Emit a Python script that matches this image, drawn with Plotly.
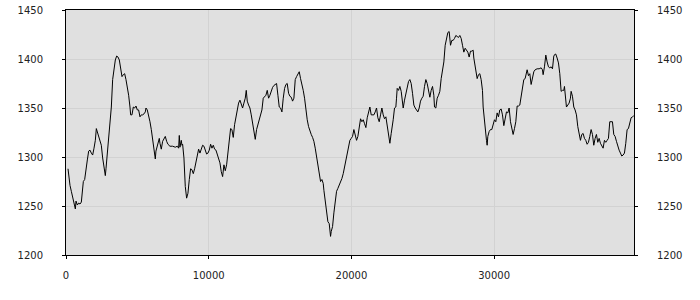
import plotly.graph_objects as go

x_values = [
    140, 187, 280, 374, 467, 560, 654, 701, 794, 887, 981, 1074, 1168, 1214, 1308, 1401, 1495, 1588, 1681, 1775,
    1868, 1962, 2055, 2125, 2195, 2288, 2382, 2475, 2569, 2662, 2755, 2802, 2896, 2989, 3082, 3176, 3269, 3363, 3456, 3549,
    3643, 3736, 3830, 3923, 4016, 4110, 4203, 4297, 4390, 4483, 4530, 4623, 4717, 4810, 4904, 4997, 5090, 5184, 5277, 5371,
    5464, 5557,
    5603, 5696, 5790, 5883, 5977, 6070, 6163, 6257, 6303, 6397, 6490, 6537, 6584, 6677, 6771, 6864, 6957, 7051, 7144, 7284,
    7471, 7658, 7798, 7891, 7938, 7985, 8031, 8078, 8125, 8172, 8265, 8358, 8452, 8545, 8639, 8732, 8825, 8919, 9012, 9106,
    9199, 9292, 9386, 9479, 9573, 9666, 9759, 9853, 9946, 10040, 10133, 10226, 10320, 10413, 10507, 10600, 10693, 10787, 10880, 10974,
    11067, 11160, 11254,
    11346, 11439, 11533, 11626, 11720, 11813, 11906, 12000, 12093, 12187, 12280, 12373, 12467, 12560, 12630, 12700, 12794, 12887, 12981, 13074,
    13167, 13261, 13354, 13448, 13541, 13634, 13728, 13821, 13915, 14008, 14101, 14195, 14288, 14382, 14475, 14568, 14662, 14755, 14849, 14942,
    15035, 15129, 15222, 15316, 15409, 15502, 15596, 15689, 15783, 15876, 15969, 16063, 16156, 16250, 16343, 16436, 16530, 16623, 16717, 16810,
    16903, 16997,
    17090, 17183, 17277, 17370, 17464, 17557, 17650, 17744, 17837, 17931, 18024, 18071, 18164, 18258, 18351, 18444, 18538, 18584, 18678, 18771,
    18865, 18958, 19051, 19145, 19238, 19332, 19425, 19518, 19612, 19705, 19799, 19892, 19985, 20079, 20172, 20266, 20359, 20452, 20546, 20639,
    20733, 20826, 20919, 21013, 21106, 21200, 21293, 21386, 21480, 21573, 21667, 21760, 21853, 21947, 22040, 22134, 22227, 22320, 22414, 22507,
    22601, 22694, 22787,
    22833, 22926, 23020, 23113, 23160, 23207, 23300, 23393, 23487, 23580, 23627, 23720, 23814, 23907, 24001, 24094, 24187, 24281, 24374, 24468,
    24561, 24654, 24748, 24841, 24935, 25028, 25121, 25215, 25308, 25402, 25495, 25588, 25682, 25775, 25822, 25915, 26009, 26102, 26195, 26289,
    26382, 26476, 26569, 26662, 26756, 26849, 26943, 27036, 27129, 27223, 27316, 27410, 27503, 27596, 27690, 27783, 27877, 27970, 28063, 28157,
    28250, 28344, 28437, 28530,
    28576, 28669, 28763, 28810, 28903, 28996, 29090, 29183, 29230, 29323, 29417, 29463, 29510, 29557, 29650, 29744, 29837, 29930, 30024, 30117,
    30211, 30304, 30397, 30491, 30584, 30678, 30771, 30864, 30958, 31051, 31145, 31238, 31331, 31425, 31518, 31612, 31705, 31798, 31892, 31985,
    32079, 32172, 32265, 32312, 32405, 32499, 32592, 32686, 32779, 32872, 33013, 33153, 33293, 33386, 33433, 33526, 33620, 33713, 33806, 33900,
    33993, 34087, 34180, 34273,
    34320, 34413, 34507, 34600, 34647, 34694, 34787, 34880, 34927, 35020, 35067, 35161, 35254, 35347, 35394, 35488, 35581, 35674, 35768, 35861,
    35955, 36048, 36141, 36235, 36328, 36422, 36515, 36608, 36702, 36795, 36889, 36982, 37075, 37169, 37262, 37356, 37449, 37542, 37636, 37729,
    37823, 37916, 38009, 38103, 38196, 38290, 38383, 38476, 38570, 38663, 38757, 38850, 38943, 39037, 39130, 39224, 39317, 39410, 39504, 39597,
    39691, 39784,
]

y_values = [
    1288, 1280, 1271, 1265, 1260, 1253, 1247, 1255, 1251, 1253, 1252, 1254, 1265, 1275, 1277, 1285, 1297, 1306, 1307, 1304,
    1302, 1309, 1317, 1329, 1326, 1321, 1316, 1312, 1299, 1288, 1281, 1288, 1306, 1321, 1338, 1351, 1379, 1392, 1399, 1403,
    1402, 1399, 1391, 1382, 1384, 1385, 1379, 1372, 1363, 1351, 1343, 1343, 1351, 1350, 1352, 1348, 1348, 1341, 1343, 1343,
    1344, 1346,
    1350, 1348, 1343, 1336, 1328, 1317, 1307, 1298, 1306, 1311, 1317, 1319, 1314, 1308, 1316, 1319, 1321, 1316, 1313, 1311,
    1311, 1310, 1311, 1309, 1322, 1310, 1316, 1317, 1312, 1313, 1299, 1270, 1258, 1263, 1277, 1288, 1287, 1283, 1288, 1294,
    1302, 1308, 1304, 1309, 1312, 1311, 1307, 1303, 1304, 1307, 1313, 1309, 1312, 1308, 1307, 1302, 1297, 1294, 1285, 1280,
    1292, 1286, 1292,
    1304, 1321, 1329, 1328, 1320, 1333, 1341, 1350, 1355, 1358, 1353, 1350, 1355, 1360, 1368, 1357, 1353, 1350, 1343, 1333,
    1323, 1318, 1328, 1333, 1338, 1345, 1348, 1360, 1362, 1363, 1368, 1360, 1363, 1368, 1371, 1373, 1374, 1375, 1363, 1351,
    1350, 1346, 1360, 1370, 1374, 1375, 1365, 1362, 1361, 1357, 1360, 1379, 1382, 1384, 1387, 1380, 1375, 1368, 1360, 1348,
    1338, 1331,
    1326, 1323, 1320, 1316, 1309, 1300, 1290, 1285, 1275, 1277, 1273, 1266, 1256, 1243, 1234, 1232, 1219, 1224, 1229, 1243,
    1256, 1265, 1268, 1271, 1274, 1278, 1283, 1290, 1297, 1306, 1314, 1317, 1319, 1321, 1328, 1323, 1317, 1321, 1329, 1339,
    1336, 1338, 1334, 1330, 1340, 1346, 1351, 1343, 1343, 1343, 1346, 1350, 1340, 1336, 1343, 1350, 1343, 1339, 1341, 1333,
    1324, 1314, 1324,
    1328, 1338, 1350, 1351, 1360, 1370, 1368, 1372, 1367, 1358, 1350, 1358, 1365, 1372, 1377, 1379, 1375, 1365, 1353, 1350,
    1348, 1346, 1350, 1357, 1360, 1362, 1372, 1379, 1375, 1368, 1361, 1368, 1372, 1363, 1351, 1350, 1360, 1363, 1367, 1380,
    1389, 1397, 1414, 1421, 1427, 1428, 1414, 1419, 1419, 1421, 1424, 1423, 1422, 1424, 1421, 1414, 1407, 1411, 1409, 1407,
    1402, 1408, 1408, 1409,
    1401, 1392, 1385, 1380, 1384, 1385, 1379, 1368, 1351, 1334, 1324, 1317, 1312, 1321, 1326, 1328, 1328, 1333, 1338, 1336,
    1345, 1341, 1348, 1349, 1343, 1332, 1341, 1346, 1345, 1350, 1336, 1329, 1323, 1329, 1336, 1352, 1352, 1353, 1363, 1372,
    1379, 1380, 1386, 1389, 1383, 1385, 1374, 1380, 1387, 1389, 1390, 1390, 1391, 1389, 1384, 1392, 1404, 1397, 1392, 1391,
    1392, 1390, 1403, 1405,
    1405, 1401, 1396, 1385, 1375, 1367, 1368, 1368, 1372, 1358, 1351, 1353, 1355, 1360, 1367, 1362, 1351, 1348, 1343, 1331,
    1323, 1317, 1323, 1324, 1319, 1317, 1313, 1315, 1321, 1328, 1323, 1312, 1319, 1323, 1315, 1319, 1314, 1311, 1309, 1317,
    1315, 1317, 1319, 1336, 1336, 1336, 1323, 1321, 1316, 1311, 1307, 1304, 1301, 1302, 1304, 1314, 1328, 1329, 1334, 1340,
    1341, 1342,
]

x_ticks = [0, 10000, 20000, 30000]
x_tick_labels = ["0", "10000", "20000", "30000"]
y_ticks = [1200, 1250, 1300, 1350, 1400, 1450]
y_tick_labels = ["1200", "1250", "1300", "1350", "1400", "1450"]

font = dict(family="DejaVu Sans", size=10, color="#222222")

fig = go.Figure()
fig.add_trace(go.Scatter(x=x_values, y=y_values, mode="lines",
                         line=dict(color="black", width=1), showlegend=False))
fig.add_trace(go.Scatter(x=x_values, y=y_values, mode="lines", yaxis="y2",
                         line=dict(color="rgba(0,0,0,0)", width=1), showlegend=False,
                         hoverinfo="skip"))

axis_common = dict(showline=True, linecolor="black", linewidth=1,
                   showgrid=True, gridcolor="#d2d2d2", gridwidth=1,
                   zeroline=False, ticks="outside", ticklen=3, tickcolor="black",
                   tickfont=font, automargin=False)

fig.update_layout(
    width=700, height=300,
    margin=dict(l=66, r=66, t=10, b=45),
    paper_bgcolor="white",
    plot_bgcolor="#e0e0e0",
    xaxis=dict(range=[0, 39800], tickvals=x_ticks, ticktext=x_tick_labels, mirror=True,
               ticklabelstandoff=8, **axis_common),
    yaxis=dict(range=[1200, 1450], tickvals=y_ticks, ticktext=y_tick_labels, side="left",
               ticklabelstandoff=17, **axis_common),
    yaxis2=dict(range=[1200, 1450], tickvals=y_ticks, ticktext=y_tick_labels, side="right",
                overlaying="y", ticklabelstandoff=17, **axis_common),
)

fig.write_html("out.html")
